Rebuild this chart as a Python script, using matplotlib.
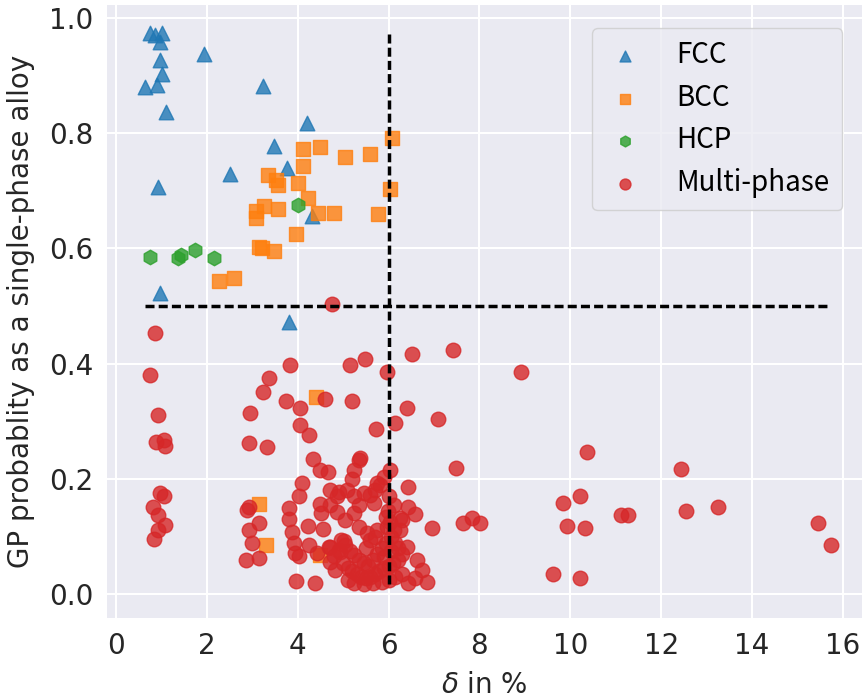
import numpy as np
import matplotlib
matplotlib.use("Agg")
import matplotlib.pyplot as plt

plt.rcParams["font.family"] = ["DejaVu Sans"]
plt.rcParams["mathtext.fontset"] = "dejavusans"

# --- data: delta (%) vs GP probability ---
fcc_x = [0.74, 0.85, 1.02, 0.98, 1.95, 0.98, 1.02, 0.65, 0.91, 3.24, 1.11, 4.20,
         3.47, 3.76, 2.52, 0.92, 4.31, 0.96, 3.80]
fcc_y = [0.973, 0.970, 0.973, 0.958, 0.937, 0.926, 0.902, 0.879, 0.883, 0.881, 0.837, 0.818,
         0.778, 0.739, 0.729, 0.707, 0.656, 0.523, 0.473]

bcc_x = [4.11, 4.49, 5.04, 4.11, 3.34, 3.52, 3.56, 4.00, 4.23, 3.09, 3.26, 3.56,
         3.09, 4.44, 4.79, 3.96, 3.14, 3.21, 3.47, 2.26, 2.60, 5.59, 6.08, 6.03,
         5.76, 4.41, 3.14, 3.30, 4.50]
bcc_y = [0.772, 0.776, 0.759, 0.743, 0.727, 0.718, 0.710, 0.714, 0.688, 0.665, 0.673, 0.669,
         0.652, 0.661, 0.662, 0.624, 0.603, 0.600, 0.596, 0.543, 0.549, 0.763, 0.792, 0.702,
         0.659, 0.343, 0.157, 0.086, 0.068]

hcp_x = [0.76, 1.36, 1.44, 1.73, 2.15, 4.00]
hcp_y = [0.585, 0.583, 0.588, 0.597, 0.584, 0.675]

multi_x = [4.76, 0.87, 0.76, 3.84, 5.15, 3.36, 3.23, 3.74, 4.05, 4.60, 5.20, 0.92,
           2.96, 4.05, 4.24, 0.89, 1.05, 1.07, 2.92, 3.32, 4.33, 4.49, 4.66, 4.09,
           4.03, 0.96, 1.05, 0.82, 0.92, 1.09, 0.92, 0.83, 2.88, 2.92, 3.14, 2.93,
           2.99, 2.87, 3.14, 3.82, 3.80, 3.87, 3.91, 3.95, 4.02, 4.22, 4.55, 4.49,
           4.51, 4.71, 4.24, 4.42, 3.96, 4.38, 4.71, 4.79, 4.90,
           5.48, 5.96, 6.51, 6.40, 6.14, 5.73, 7.08, 5.37, 5.25, 5.19, 6.03, 5.81,
           5.70, 5.59, 6.43, 4.86, 5.23, 4.86, 5.23, 5.04, 4.71, 5.34, 5.67, 6.11,
           6.43, 6.58, 6.95, 5.34, 5.52, 5.74, 5.96, 6.29, 6.25, 4.68, 5.01, 4.94,
           6.40, 6.62, 6.73, 6.43, 6.84, 7.41, 8.91, 7.48, 7.64, 7.83, 8.01, 9.84,
           9.92, 9.61, 6.58, 10.36, 12.43, 10.22, 10.32, 11.11, 11.27, 12.54, 13.25,
           15.46, 15.74, 10.21, 4.90, 5.08, 5.36, 4.71, 4.82, 5.89, 5.75, 5.45,
           6.25, 6.11,
           4.95, 5.05, 5.15, 5.25, 5.35, 5.45, 5.55, 5.65, 5.75, 5.85, 5.95, 6.05,
           6.15, 5.00, 5.10, 5.20, 5.30, 5.40, 5.50, 5.60, 5.70, 5.80, 5.90, 6.00,
           6.10, 6.20, 5.10, 5.25, 5.45, 5.65, 5.85, 6.00, 6.15, 6.30, 5.50, 5.60,
           5.70, 5.90, 6.05, 6.20, 6.30, 6.00, 5.98, 6.03, 5.95]
multi_y = [0.503, 0.453, 0.380, 0.398, 0.397, 0.375, 0.351, 0.336, 0.324, 0.339, 0.335, 0.311,
           0.314, 0.293, 0.276, 0.265, 0.268, 0.258, 0.263, 0.256, 0.234, 0.216, 0.213, 0.194,
           0.170, 0.176, 0.170, 0.151, 0.138, 0.120, 0.112, 0.096, 0.146, 0.152, 0.124, 0.111,
           0.090, 0.059, 0.063, 0.149, 0.130, 0.109, 0.089, 0.071, 0.066, 0.119, 0.113, 0.157,
           0.141, 0.181, 0.086, 0.071, 0.024, 0.020, 0.083, 0.066, 0.077,
           0.408, 0.386, 0.416, 0.324, 0.298, 0.287, 0.304, 0.236, 0.216, 0.201, 0.216, 0.190,
           0.181, 0.172, 0.187, 0.170, 0.170, 0.143, 0.141, 0.129, 0.155, 0.155, 0.158, 0.155,
           0.152, 0.140, 0.115, 0.117, 0.106, 0.112, 0.117, 0.129, 0.112, 0.083, 0.092, 0.074,
           0.083, 0.060, 0.042, 0.019, 0.022, 0.424, 0.385, 0.220, 0.124, 0.132, 0.124, 0.159,
           0.118, 0.035, 0.028, 0.247, 0.218, 0.171, 0.116, 0.137, 0.138, 0.145, 0.151,
           0.124, 0.086, 0.028, 0.178, 0.181, 0.233, 0.057, 0.042, 0.204, 0.193, 0.175,
           0.132, 0.112,
           0.095, 0.085, 0.075, 0.068, 0.060, 0.055, 0.050, 0.060, 0.070, 0.080, 0.090, 0.100,
           0.090, 0.055, 0.045, 0.040, 0.035, 0.030, 0.028, 0.030, 0.035, 0.040, 0.045, 0.050,
           0.055, 0.060, 0.025, 0.020, 0.018, 0.020, 0.022, 0.025, 0.030, 0.035, 0.080, 0.095,
           0.100, 0.065, 0.075, 0.080, 0.070, 0.170, 0.145, 0.125, 0.135]

delta_cut = 6.0
prob_cut = 0.5

labels = ["FCC", "BCC", "HCP", "Multi-phase"]

fig = plt.figure(figsize=(8.65, 7.0), dpi=100)
ax = fig.add_axes([0.124, 0.117, 0.872, 0.876])
ax.set_facecolor("#EAEAF2")
for s in ax.spines.values():
    s.set_visible(False)
ax.grid(True, color="white", linewidth=1.5)
ax.set_axisbelow(True)

ax.scatter(fcc_x, fcc_y, marker="^", s=110, color="tab:blue", alpha=0.8, label=labels[0])
ax.scatter(bcc_x, bcc_y, marker="s", s=110, color="tab:orange", alpha=0.8, label=labels[1])
ax.scatter(hcp_x, hcp_y, marker="h", s=110, color="tab:green", alpha=0.8, label=labels[2])
ax.scatter(multi_x, multi_y, marker="o", s=110, color="tab:red", alpha=0.8, label=labels[3])

all_x = fcc_x + bcc_x + hcp_x + multi_x
all_y = fcc_y + bcc_y + hcp_y + multi_y
ax.plot([delta_cut, delta_cut], [min(all_y), max(all_y)], color="black",
        lw=2.5, linestyle=(0, (2.6, 1.2)))
ax.plot([min(all_x), max(all_x)], [prob_cut, prob_cut], color="black",
        lw=2.5, linestyle=(0, (2.6, 1.2)))

ax.set_xlim(-0.19, 16.41)
ax.set_ylim(-0.041, 1.022)
ax.set_xticks(np.arange(0, 17, 2))
ax.set_yticks(np.arange(0, 1.01, 0.2))
ax.tick_params(length=0, pad=10, labelsize=20, labelcolor="#262626")

ax.set_xlabel(r"$\delta$ in %", fontsize=20, color="#262626", labelpad=8)
ax.set_ylabel("GP probablity as a single-phase alloy", fontsize=20, color="#262626", labelpad=10)

leg = ax.legend(loc="upper right", markerscale=0.75, frameon=True, fancybox=True,
                prop={"family": ["Noto Sans CJK SC", "DejaVu Sans"], "size": 20},
                borderpad=0.45, labelspacing=0.45, handlelength=1.5, handletextpad=1.1,
                bbox_to_anchor=(0.993, 0.985))
leg.get_frame().set_facecolor("#EAEAF2")
leg.get_frame().set_edgecolor("#CCCCCC")

fig.savefig("out.png", dpi=100)
